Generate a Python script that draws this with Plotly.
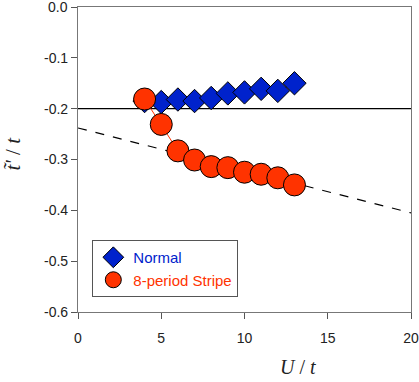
import plotly.graph_objects as go

# Normal phase
u_normal = [4, 5, 6, 7, 8, 9, 10, 11, 12, 13]
t_normal = [-0.185, -0.187, -0.182, -0.185, -0.179, -0.170, -0.168, -0.161, -0.165, -0.150]

# 8-period stripe phase
u_stripe = [4, 5, 6, 7, 8, 9, 10, 11, 12, 13]
t_stripe = [-0.181, -0.231, -0.283, -0.301, -0.314, -0.316, -0.325, -0.329, -0.336, -0.350]

# reference lines
hline_x = [0, 20]
hline_y = [-0.2, -0.2]
dash_x = [0, 20]
dash_y = [-0.238, -0.405]

x_ticks = [0, 5, 10, 15, 20]
y_ticks = [0.0, -0.1, -0.2, -0.3, -0.4, -0.5, -0.6]
y_ticktext = ["0.0", "-0.1", "-0.2", "-0.3", "-0.4", "-0.5", "-0.6"]

BLUE = "#0022cc"
RED = "#ff3300"
TICKFONT = dict(family="Liberation Sans, Arial", size=14, color="#222222")

fig = go.Figure()

fig.add_trace(go.Scatter(x=hline_x, y=hline_y, mode="lines",
                         line=dict(color="black", width=1.2), showlegend=False, hoverinfo="skip"))
fig.add_trace(go.Scatter(x=dash_x, y=dash_y, mode="lines",
                         line=dict(color="black", width=1.2, dash="dash"), showlegend=False, hoverinfo="skip"))

# connecting lines (kept out of the legend)
fig.add_trace(go.Scatter(x=u_normal, y=t_normal, mode="lines",
                         line=dict(color=BLUE, width=1), showlegend=False, hoverinfo="skip"))
fig.add_trace(go.Scatter(x=u_stripe, y=t_stripe, mode="lines",
                         line=dict(color=RED, width=1), showlegend=False, hoverinfo="skip"))

fig.add_trace(go.Scatter(
    x=u_normal, y=t_normal, mode="markers",
    name=f"<span style='color:{BLUE}'>Normal</span>",
    marker=dict(symbol="diamond", size=18, color=BLUE, line=dict(color="black", width=1))
))
fig.add_trace(go.Scatter(
    x=u_stripe, y=t_stripe, mode="markers",
    name=f"<span style='color:{RED}'>8-period Stripe</span>",
    marker=dict(symbol="circle", size=22, color=RED, line=dict(color="black", width=1))
))

axis_common = dict(
    showgrid=False, zeroline=False, showline=True, mirror=True, automargin=False,
    linecolor="#777777", linewidth=1.2, ticks="outside", ticklen=6,
    tickcolor="#555555", tickfont=TICKFONT,
)

fig.update_xaxes(range=[0, 20], tickvals=x_ticks, ticklabelstandoff=7, **axis_common)
fig.update_yaxes(range=[-0.6, 0.0], tickvals=y_ticks, ticktext=y_ticktext, **axis_common)

fig.update_layout(
    width=419, height=382,
    margin=dict(l=78, r=8, t=7, b=70),
    plot_bgcolor="white", paper_bgcolor="white",
    legend=dict(
        x=0.043, y=0.236, xanchor="left", yanchor="top",
        bordercolor="#555555", borderwidth=1, bgcolor="white",
        font=dict(family="Liberation Sans, Arial", size=15),
        tracegroupgap=0,
    ),
    annotations=[
        # top tick label sits at the page edge, plotly drops it, so place it by hand
        dict(text=y_ticktext[0], xref="paper", yref="y", x=0, y=y_ticks[0],
             xanchor="right", yanchor="middle", xshift=-8, showarrow=False, font=TICKFONT),
        dict(text="<i>U</i> / <i>t</i>", xref="paper", yref="paper", x=0.66, y=-0.18,
             xanchor="center", yanchor="middle", showarrow=False,
             font=dict(family="Liberation Serif, Times New Roman", size=20, color="#222222")),
        dict(text="<i>t&#771;'</i> / <i>t</i>", xref="paper", yref="paper", x=-0.195, y=0.52,
             xanchor="center", yanchor="middle", showarrow=False, textangle=-90,
             font=dict(family="Liberation Serif, Times New Roman", size=21, color="#222222")),
    ],
)

# the page body has a default 8px margin; drop it so the figure sits at the corner
fig.write_html("out.html", config={"displayModeBar": False},
               post_script="document.body.style.margin='0';")
